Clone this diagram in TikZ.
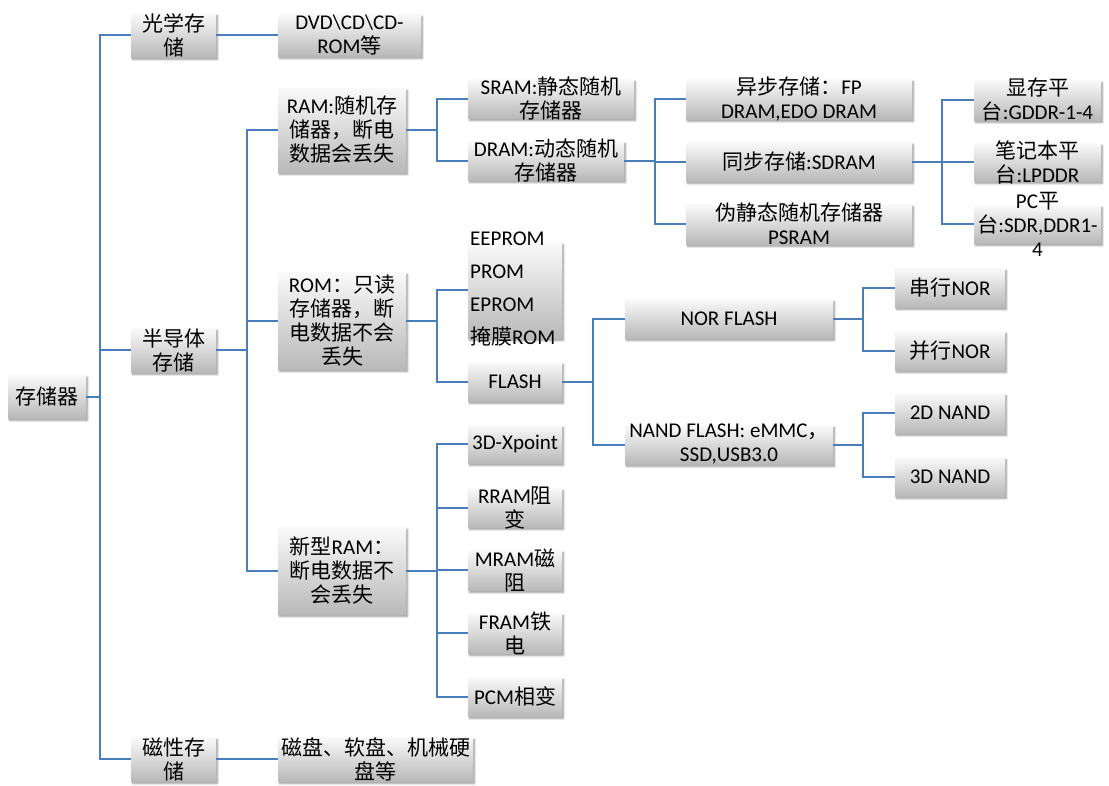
\documentclass[tikz,border=0pt]{standalone}
\usepackage{fontspec}
\setmainfont{Carlito}
\newfontfamily\cjk{Noto Sans CJK SC}
\usetikzlibrary{shadows.blur}
\definecolor{lineblue}{RGB}{74,126,187}
\newcommand\zh[1]{{\cjk #1}}
\newcommand\mybox[6]{%
  \node[box, minimum width={#4pt-#2pt}, minimum height={#5pt-#3pt}] (#1) at ({(#2+#4)/2},{(#3+#5)/2}) {};
  \node[txt] (#1-t) at (#1.center) {#6};
}
\begin{document}
\begin{tikzpicture}[x=1pt,y=-1pt,
  box/.style={inner sep=0pt, outer sep=0pt, draw=none, top color=gray!4, bottom color=gray!55,
    blur shadow={shadow xshift=1.5pt, shadow yshift=-2.5pt, shadow blur steps=6, shadow opacity=40}},
  txt/.style={inner sep=0pt, align=center, font=\fontsize{21}{24}\selectfont},
  conn/.style={draw=lineblue, line width=2pt}]
\useasboundingbox (0,0) rectangle (1109,785);

\mybox{root}{8}{375}{86}{418}{\zh{存储器}}
\mybox{opt}{131}{13}{216}{57}{\zh{光学存}\\\zh{储}}
\mybox{dvd}{278}{14}{421}{56}{DVD\textbackslash CD\textbackslash CD-\\ROM\zh{等}}
\mybox{semi}{131}{328}{216}{372}{\zh{半导体}\\\zh{存储}}
\mybox{mag}{131}{737}{216}{781}{\zh{磁性存}\\\zh{储}}
\mybox{disk}{278}{737}{473}{781}{\zh{磁盘、软盘、机械硬}\\\zh{盘等}}
\mybox{ram}{278}{88}{406}{172}{RAM:\zh{随机存}\\\zh{储器，断电}\\\zh{数据会丢失}}
\mybox{rom}{278}{272}{406}{369}{ROM\zh{：只读}\\\zh{存储器，断}\\\zh{电数据不会}\\\zh{丢失}}
\mybox{nram}{278}{527}{406}{614}{\zh{新型}RAM\zh{：}\\\zh{断电数据不}\\\zh{会丢失}}
\mybox{sram}{468}{79}{634}{118}{SRAM:\zh{静态随机}\\\zh{存储器}}
\mybox{dram}{468}{141}{624}{180}{DRAM:\zh{动态随机}\\\zh{存储器}}
\mybox{async}{686}{79}{912}{119}{\zh{异步存储：}FP\\DRAM,EDO DRAM}
\mybox{sync}{686}{142}{912}{181}{\zh{同步存储}:SDRAM}
\mybox{psram}{686}{204}{912}{244}{\zh{伪静态随机存储器}\\PSRAM}
\mybox{gddr}{974}{80}{1101}{120}{\zh{显存平}\\\zh{台}:GDDR-1-4}
\mybox{lpddr}{974}{143}{1101}{181}{\zh{笔记本平}\\\zh{台}:LPDDR}
\mybox{pc}{974}{205}{1101}{243}{PC\zh{平}\\\zh{台}:SDR,DDR1-\\4}
\node[box, minimum width=94pt, minimum height=96pt] (eep) at (515,290) {};
\node[txt, align=left, anchor=west, font=\fontsize{21}{32.7}\selectfont] (eep-t) at (470,289) {EEPROM\\PROM\\EPROM\\\zh{掩膜}ROM};
\mybox{flash}{468}{362}{562}{401}{FLASH}
\mybox{nor}{625}{299}{833}{338}{NOR FLASH}
\mybox{nand}{625}{425}{833}{464}{NAND FLASH: eMMC\zh{，}\\SSD,USB3.0}
\mybox{snor}{895}{268}{1005}{307}{\zh{串行}NOR}
\mybox{pnor}{895}{331}{1005}{370}{\zh{并行}NOR}
\mybox{nandb}{895}{393}{1005}{433}{2D NAND}
\mybox{nandc}{895}{457}{1005}{496}{3D NAND}
\mybox{xp}{468}{425}{562}{463}{3D-Xpoint}
\mybox{rram}{468}{488}{562}{527}{RRAM\zh{阻}\\\zh{变}}
\mybox{mram}{468}{550}{562}{590}{MRAM\zh{磁}\\\zh{阻}}
\mybox{fram}{468}{613}{562}{653}{FRAM\zh{铁}\\\zh{电}}
\mybox{pcm}{468}{677}{562}{716}{PCM\zh{相变}}

\coordinate (va) at (100,0);
\coordinate (vb) at (247,0);
\coordinate (vc) at (437,0);
\coordinate (vd) at (655,0);
\coordinate (ve) at (942,0);
\coordinate (vf) at (593,0);
\coordinate (vg) at (863,0);

\draw[conn] (root.east) -- (root.east -| va);
\foreach \nm in {opt,semi,mag} \draw[conn] (root.east -| va) |- (\nm.west);
\draw[conn] (opt.east) -- (dvd.west);
\draw[conn] (mag.east) -- (disk.west);
\draw[conn] (semi.east) -- (semi.east -| vb);
\foreach \nm in {ram,rom,nram} \draw[conn] (semi.east -| vb) |- (\nm.west);
\draw[conn] (ram.east) -- (ram.east -| vc);
\foreach \nm in {sram,dram} \draw[conn] (ram.east -| vc) |- (\nm.west);
\draw[conn] (dram.east) -- (dram.east -| vd);
\foreach \nm in {async,sync,psram} \draw[conn] (dram.east -| vd) |- (\nm.west);
\draw[conn] (sync.east) -- (sync.east -| ve);
\foreach \nm in {gddr,lpddr,pc} \draw[conn] (sync.east -| ve) |- (\nm.west);
\draw[conn] (rom.east) -- (rom.east -| vc);
\foreach \nm in {eep,flash} \draw[conn] (rom.east -| vc) |- (\nm.west);
\draw[conn] (flash.east) -- (flash.east -| vf);
\foreach \nm in {nor,nand} \draw[conn] (flash.east -| vf) |- (\nm.west);
\draw[conn] (nor.east) -- (nor.east -| vg);
\foreach \nm in {snor,pnor} \draw[conn] (nor.east -| vg) |- (\nm.west);
\draw[conn] (nand.east) -- (nand.east -| vg);
\foreach \nm in {nandb,nandc} \draw[conn] (nand.east -| vg) |- (\nm.west);
\draw[conn] (nram.east) -- (nram.east -| vc);
\foreach \nm in {xp,rram,mram,fram,pcm} \draw[conn] (nram.east -| vc) |- (\nm.west);
\end{tikzpicture}
\end{document}
